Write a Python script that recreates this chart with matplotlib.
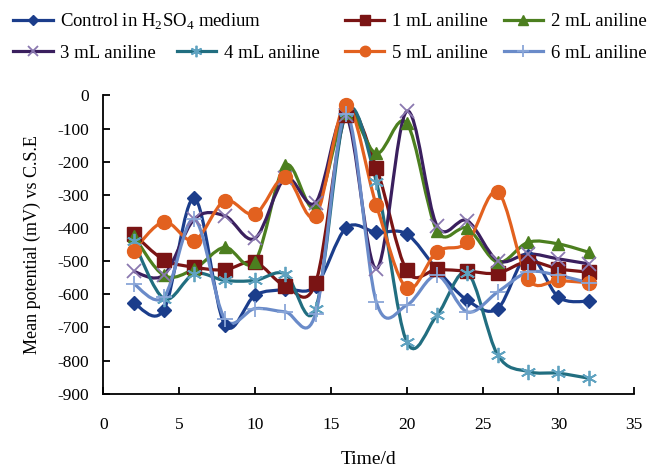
import numpy as np
import matplotlib.pyplot as plt
from matplotlib.path import Path
from matplotlib.patches import PathPatch
from matplotlib.lines import Line2D

plt.rcParams['font.family'] = ['Liberation Serif', 'DejaVu Serif']
plt.rcParams['mathtext.fontset'] = 'custom'
plt.rcParams['mathtext.rm'] = 'Liberation Serif'
plt.rcParams['axes.unicode_minus'] = False

days = [2, 4, 6, 8, 10, 12, 14, 16, 18, 20, 22, 24, 26, 28, 30, 32]

control = [-626, -646, -310, -691, -603, -585, -575, -400, -413, -418, -525, -618, -643, -483, -608, -621]
aniline_1 = [-418, -496, -518, -526, -503, -575, -565, -58, -218, -528, -525, -530, -536, -501, -523, -533]
aniline_2 = [-423, -543, -523, -458, -501, -211, -338, -52, -175, -83, -408, -401, -503, -443, -448, -473]
aniline_3 = [-531, -541, -373, -363, -431, -250, -323, -60, -523, -48, -393, -378, -498, -478, -493, -508]
aniline_4 = [-440, -613, -538, -558, -558, -538, -643, -50, -260, -743, -663, -535, -783, -833, -838, -853]
aniline_5 = [-468, -381, -438, -318, -358, -246, -363, -28, -331, -581, -471, -443, -291, -553, -558, -565]
aniline_6 = [-568, -608, -373, -673, -643, -653, -658, -55, -623, -633, -543, -653, -593, -533, -543, -565]

labels = [r"Control in H$_\mathrm{2}$SO$_\mathrm{4}$ medium", "1 mL aniline", "2 mL aniline",
          "3 mL aniline", "4 mL aniline", "5 mL aniline", "6 mL aniline"]
series = [control, aniline_1, aniline_2, aniline_3, aniline_4, aniline_5, aniline_6]
colors = ["#1b3d8b", "#7a1414", "#4c7f1f", "#3a1f5e", "#216e80", "#e2611f", "#6a8bc9"]
mcolors = ["#1b3d8b", "#7a1414", "#4c7f1f", "#8a78b0", "#5fa2c0", "#e2611f", "#8aa6d8"]
markers = ["D", "s", "^", "x", (6, 2, 0), "o", "+"]
msizes = [7, 10, 9, 10, 11, 10, 11]


def smooth_path(x, y):
    # Excel-style smoothed line: cubic bezier through every point
    pts = np.column_stack([x, y]).astype(float)
    verts = [pts[0]]
    codes = [Path.MOVETO]
    n = len(pts)
    for i in range(n - 1):
        p0 = pts[i - 1] if i > 0 else pts[i]
        p1 = pts[i]
        p2 = pts[i + 1]
        p3 = pts[i + 2] if i + 2 < n else pts[i + 1]
        c1 = p1 + (p2 - p0) / 6.0
        c2 = p2 - (p3 - p1) / 6.0
        verts += [c1, c2, p2]
        codes += [Path.CURVE4] * 3
    return Path(verts, codes)


fig = plt.figure(figsize=(6.62, 4.75), dpi=100)
ax = fig.add_axes([0.156, 0.171, 0.802, 0.628])

handles = []
for vals, c, mc, m, ms in zip(series, colors, mcolors, markers, msizes):
    ax.add_patch(PathPatch(smooth_path(days, vals), facecolor="none", edgecolor=c, lw=2.3))
    mew = 1.3 if mc != c else 1
    ax.plot(days, vals, ls="none", marker=m, color=mc, ms=ms, mew=mew)
    handles.append(Line2D([0], [0], color=c, lw=2.3, marker=m, mfc=mc, mec=mc,
                          ms=ms * 0.75, mew=mew))

ax.set_xlim(0, 35)
ax.set_ylim(-900, 0)
ax.set_xticks(range(0, 36, 5))
ax.set_yticks(range(-900, 1, 100))
ax.spines['top'].set_visible(False)
ax.spines['right'].set_visible(False)
ax.spines['left'].set_linewidth(1.3)
ax.spines['bottom'].set_linewidth(1.3)
ax.tick_params(direction="in", labelsize=12.5, length=5, width=1.3)
ax.tick_params(axis="x", pad=17)
ax.tick_params(axis="y", pad=10)
ax.set_xlabel("Time/d", fontsize=14, labelpad=13)
ax.set_ylabel("Mean potential (mV) vs C.S.E", fontsize=13, labelpad=12)

# legend laid out in two rows like the original
spots = [(0.02, 0.954), (0.521, 0.954), (0.761, 0.954),
         (0.02, 0.888), (0.267, 0.888), (0.521, 0.888), (0.761, 0.888)]
for h, lab, (lx, ly) in zip(handles, labels, spots):
    fig.legend(handles=[h], labels=[lab], loc="center left", bbox_to_anchor=(lx, ly),
               frameon=False, fontsize=13.5, handlelength=2.1, handletextpad=0.4,
               borderpad=0, borderaxespad=0)

fig.savefig("out.png", dpi=100)
